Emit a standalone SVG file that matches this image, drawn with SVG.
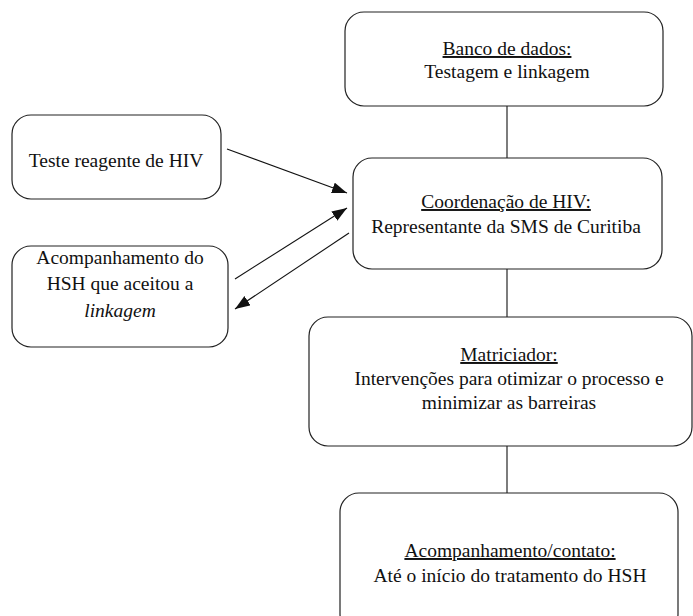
<svg xmlns="http://www.w3.org/2000/svg" width="693" height="616" viewBox="0 0 693 616">
<style>
.box{fill:#fff;stroke:#222;stroke-width:1.2}
.t{font-family:"Liberation Serif","Times New Roman",serif;font-size:19.5px;fill:#111;text-anchor:middle}
.u{text-decoration:underline}
.c{stroke:#111;stroke-width:1.1;fill:none}
</style>
<defs>
<marker id="ah" markerUnits="userSpaceOnUse" markerWidth="16" markerHeight="12" refX="15" refY="5.5" orient="auto">
<path d="M0,0 L15,5.5 L0,11 z" fill="#111"/>
</marker>
</defs>
<g id="connectors">
<line class="c" x1="507" y1="106" x2="507" y2="158"/>
<line class="c" x1="507" y1="269" x2="507" y2="317"/>
<line class="c" x1="507" y1="446" x2="507" y2="493"/>
<line class="c" x1="227" y1="149" x2="347" y2="193" marker-end="url(#ah)"/>
<line class="c" x1="235" y1="279" x2="347" y2="208" marker-end="url(#ah)"/>
<line class="c" x1="349" y1="233" x2="235" y2="309" marker-end="url(#ah)"/>
</g>
<g id="banco">
<rect class="box" x="345" y="12" width="318" height="94" rx="19"/>
<text class="t" x="507" y="55"><tspan class="u">Banco de dados:</tspan></text>
<text class="t" x="507" y="78">Testagem e linkagem</text>
</g>
<g id="teste">
<rect class="box" x="12" y="115" width="209" height="84" rx="19"/>
<text class="t" x="116" y="167">Teste reagente de HIV</text>
</g>
<g id="coordenacao">
<rect class="box" x="353" y="158" width="309" height="111" rx="19"/>
<text class="t" x="506" y="208"><tspan class="u">Coordenação de HIV:</tspan></text>
<text class="t" x="506" y="233">Representante da SMS de Curitiba</text>
</g>
<g id="acompanhamento-hsh">
<rect class="box" x="12" y="246" width="216" height="101" rx="19"/>
<text class="t" x="120" y="264">Acompanhamento do</text>
<text class="t" x="120" y="290">HSH que aceitou a</text>
<text class="t" x="120" y="317" font-style="italic">linkagem</text>
</g>
<g id="matriciador">
<rect class="box" x="309" y="317" width="383" height="129" rx="19"/>
<text class="t" x="509" y="361"><tspan class="u">Matriciador:</tspan></text>
<text class="t" x="509" y="385">Intervenções para otimizar o processo e</text>
<text class="t" x="509" y="409">minimizar as barreiras</text>
</g>
<g id="contato">
<rect class="box" x="340" y="493" width="338" height="140" rx="19"/>
<text class="t" x="510" y="557"><tspan class="u">Acompanhamento/contato:</tspan></text>
<text class="t" x="510" y="582">Até o início do tratamento do HSH</text>
</g>
</svg>
